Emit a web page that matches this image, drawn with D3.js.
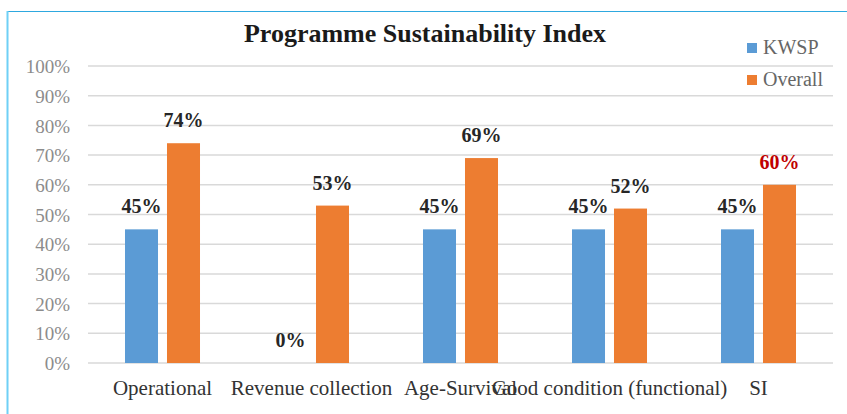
<!DOCTYPE html>
<html>
<head>
<meta charset="utf-8">
<script src="https://cdn.jsdelivr.net/npm/d3@7/dist/d3.min.js"></script>
<style>
  html, body { margin: 0; padding: 0; background: #fff; }
  svg { display: block; }
  svg text { font-family: "Liberation Serif", "Times New Roman", Times, "DejaVu Serif", serif; }
</style>
</head>
<body>
<svg id="chart" width="847" height="414"></svg>
<script>
// Chart data
const categories = ["Operational", "Revenue collection", "Age-Survival", "Good condition (functional)", "SI"];
const seriesNames = ["KWSP", "Overall"];
const kwspValues = [0.45, 0.00, 0.45, 0.45, 0.45];
const overallValues = [0.74, 0.53, 0.69, 0.52, 0.60];
const yTicks = [0, 0.1, 0.2, 0.3, 0.4, 0.5, 0.6, 0.7, 0.8, 0.9, 1.0];
const titleText = "Programme Sustainability Index";

const colors = { KWSP: "#5b9bd5", Overall: "#ed7d31" };

const svg = d3.select("#chart");
const plot = { left: 88, right: 833, top: 66, bottom: 363 };

// Frame
svg.append("line").attr("x1", 7).attr("x2", 847).attr("y1", 11.5).attr("y2", 11.5)
  .attr("stroke", "#2ea8df").attr("stroke-width", 1);
svg.append("line").attr("x1", 7.5).attr("x2", 7.5).attr("y1", 11).attr("y2", 414)
  .attr("stroke", "#6fd0f6").attr("stroke-width", 2);

const x0 = d3.scaleBand().domain(categories).range([plot.left, plot.right]).padding(0);
const x1 = d3.scaleBand().domain(seriesNames).range([0, x0.bandwidth()])
  .paddingInner(0.214).paddingOuter(0.881);
const y = d3.scaleLinear().domain([0, 1]).range([plot.bottom, plot.top]);

// Gridlines
svg.append("g").selectAll("line").data(yTicks).join("line")
  .attr("x1", plot.left).attr("x2", plot.right)
  .attr("y1", d => y(d)).attr("y2", d => y(d))
  .attr("stroke", "#d9d9d9").attr("stroke-width", 1.5);

// Y axis labels
const yAxis = d3.axisLeft(y).tickValues(yTicks).tickFormat(d3.format(".0%")).tickSize(0).tickPadding(18);
const yg = svg.append("g").attr("transform", `translate(${plot.left},0)`).call(yAxis)
  .attr("font-family", null);
yg.select(".domain").remove();
yg.selectAll("text").attr("font-size", 19).attr("fill", "#8c8c8c").attr("dy", "0.35em");

// X axis labels
const xAxis = d3.axisBottom(x0).tickSize(0).tickPadding(17);
const xg = svg.append("g").attr("transform", `translate(0,${plot.bottom})`).call(xAxis)
  .attr("font-family", null);
xg.select(".domain").remove();
xg.selectAll("text").attr("font-size", 21).attr("fill", "#333333");

// Bars
const rows = categories.map((c, i) => ({ cat: c, vals: [
  { key: "KWSP", value: kwspValues[i] },
  { key: "Overall", value: overallValues[i] }
]}));

const groups = svg.append("g").selectAll("g").data(rows).join("g")
  .attr("transform", d => `translate(${x0(d.cat)},0)`);

groups.selectAll("rect").data(d => d.vals).join("rect")
  .attr("x", d => x1(d.key))
  .attr("width", x1.bandwidth())
  .attr("y", d => y(d.value))
  .attr("height", d => y(0) - y(d.value))
  .attr("fill", d => colors[d.key]);

// Value labels
groups.each(function(d) {
  const isSI = d.cat === "SI";
  d3.select(this).selectAll("text.val").data(d.vals).join("text")
    .attr("class", "val")
    .attr("x", v => x1(v.key) + x1.bandwidth() / 2)
    .attr("y", v => y(v.value) - 16)
    .attr("text-anchor", "middle")
    .attr("font-weight", "bold")
    .attr("font-size", 20)
    .attr("fill", v => (isSI && v.key === "Overall") ? "#c00000" : "#262626")
    .text(v => d3.format(".0%")(v.value));
});

// Title
svg.append("text").attr("x", 425).attr("y", 42).attr("text-anchor", "middle")
  .attr("font-weight", "bold").attr("font-size", 26)
  .attr("fill", "#1a1a1a").text(titleText);

// Legend
const legend = svg.append("g").selectAll("g").data(seriesNames).join("g")
  .attr("transform", (d, i) => `translate(747,${43 + i * 32})`);
legend.append("rect").attr("width", 10).attr("height", 10).attr("fill", d => colors[d]);
legend.append("text").attr("x", 16).attr("y", 11)
  .attr("font-size", 20).attr("fill", "#666666").text(d => d);
</script>
</body>
</html>
